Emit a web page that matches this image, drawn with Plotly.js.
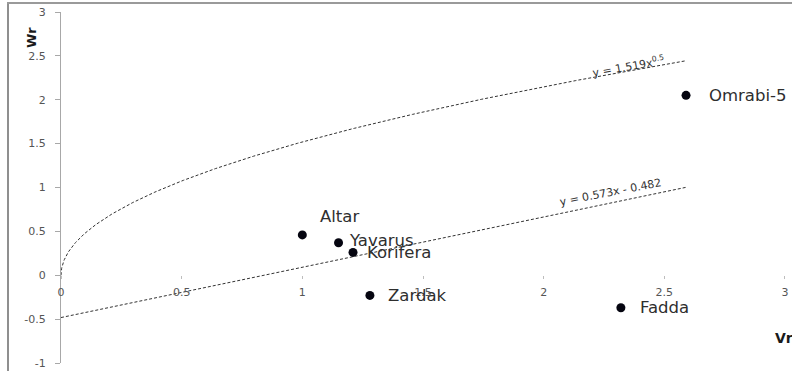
<!DOCTYPE html>
<html>
<head>
<meta charset="utf-8">
<script src="https://cdn.plot.ly/plotly-3.0.1.min.js"></script>
<style>
  html, body { margin: 0; padding: 0; background: #fff; }
  #chart { width: 792px; height: 371px; }
</style>
</head>
<body>
<div id="chart"></div>
<script>
// Cultivar stability indices: Vr (x) against Wr (y)
const cultivars = ["Altar", "Yavarus", "Korifera", "Zardak", "Fadda", "Omrabi-5"];
const vrValues  = [1.00, 1.15, 1.21, 1.28, 2.32, 2.59];
const wrValues  = [0.46, 0.37, 0.26, -0.23, -0.37, 2.05];

const xTicks = [0, 0.5, 1, 1.5, 2, 2.5, 3];
const yTicks = [-1, -0.5, 0, 0.5, 1, 1.5, 2, 2.5, 3];

// Fitted trend equations shown on the chart
const powerCoef = 1.519, powerExp = 0.5;   // y = a * x^b
const linSlope = 0.573, linIntercept = -0.482; // y = m*x + c

// Label placement offsets (pixels) for each cultivar name
const labelShiftX = [16, 8, 12, 16, 17, 21];
const labelShiftY = [18, 2, 0, 0, 0, 0];

// Plot geometry
const W = 792, H = 371;
const M = { l: 61, r: 0, t: 11.5, b: 7.5 };
const pxPerX = 241.33;
const xMax = (W - M.l - M.r) / pxPerX;

// Trend curves evaluated over the data range starting at zero
const xEnd = Math.max(...vrValues);
const powX = [], powY = [];
const steps = 400;
for (let i = 0; i <= steps; i++) {
  const t = i / steps;
  const x = xEnd * t * t;          // denser near the origin
  powX.push(x);
  powY.push(powerCoef * Math.pow(x, powerExp));
}
const linX = [0, xEnd];
const linY = linX.map(x => linSlope * x + linIntercept);

const font = "DejaVu Sans, Liberation Sans, sans-serif";

const traces = [
  {
    x: powX, y: powY, mode: "lines", type: "scatter",
    line: { color: "#333", width: 1, dash: "3px,2px" },
    hoverinfo: "skip", showlegend: false
  },
  {
    x: linX, y: linY, mode: "lines", type: "scatter",
    line: { color: "#333", width: 1, dash: "3px,2px" },
    hoverinfo: "skip", showlegend: false
  },
  {
    x: vrValues, y: wrValues, mode: "markers", type: "scatter",
    marker: { color: "#050510", size: 9, line: { width: 0 } },
    text: cultivars, showlegend: false
  }
];

const annotations = cultivars.map((name, i) => ({
  x: vrValues[i], y: wrValues[i], xref: "x", yref: "y",
  text: name, showarrow: false,
  xanchor: "left", yanchor: "middle",
  xshift: labelShiftX[i], yshift: labelShiftY[i],
  font: { family: font, size: 16.5, color: "#2e2e2e" }
}));

annotations.push({
  x: 2.35, y: 2.38, xref: "x", yref: "y",
  text: "y = " + powerCoef.toFixed(3) + "x<sup>" + powerExp + "</sup>",
  showarrow: false, textangle: -10,
  font: { family: font, size: 11, color: "#333" }
});
annotations.push({
  x: 2.275, y: 0.94, xref: "x", yref: "y",
  text: "y = " + linSlope.toFixed(3) + "x - " + Math.abs(linIntercept).toFixed(3),
  showarrow: false, textangle: -11,
  font: { family: font, size: 11, color: "#333" }
});

// Axis titles
const plotW = W - M.l - M.r, plotH = H - M.t - M.b;
const px2paperX = px => (px - M.l) / plotW;
const px2paperY = py => (H - M.b - py) / plotH;

annotations.push({
  x: px2paperX(32), y: px2paperY(37.5), xref: "paper", yref: "paper",
  xanchor: "center", yanchor: "middle",
  text: "<b>Wr</b>", showarrow: false, textangle: -90,
  font: { family: font, size: 13, color: "#1a1a1a" }
});
annotations.push({
  x: px2paperX(773), y: px2paperY(338), xref: "paper", yref: "paper",
  text: "<b>Vr</b>", showarrow: false, xanchor: "left", yanchor: "middle",
  font: { family: font, size: 14, color: "#1a1a1a" }
});

// Chart frame edges (left and top)
const shapes = [
  {
    type: "line", xref: "paper", yref: "paper",
    x0: px2paperX(8), x1: px2paperX(8), y0: px2paperY(2), y1: px2paperY(H + 2),
    line: { color: "#8f8f8f", width: 2 }
  },
  {
    type: "line", xref: "paper", yref: "paper",
    x0: px2paperX(7), x1: px2paperX(W + 2), y0: px2paperY(2.5), y1: px2paperY(2.5),
    line: { color: "#9a9a9a", width: 2 }
  }
];

const layout = {
  width: W, height: H,
  margin: M,
  paper_bgcolor: "#fff", plot_bgcolor: "#fff",
  showlegend: false,
  xaxis: {
    range: [0, xMax],
    tickvals: xTicks, ticktext: xTicks.map(String),
    anchor: "free", position: 0.25,
    showline: false, showgrid: false, zeroline: false,
    ticks: "outside", ticklen: 3, tickcolor: "#bdbdbd", tickwidth: 1,
    ticklabelstandoff: 4,
    tickfont: { family: font, size: 11, color: "#555" }
  },
  yaxis: {
    range: [-1, 3],
    tickvals: yTicks, ticktext: yTicks.map(String),
    showline: true, linecolor: "#a8a8a8", linewidth: 1,
    showgrid: false, zeroline: false,
    ticks: "outside", ticklen: 5, tickcolor: "#a8a8a8",
    ticklabelstandoff: 7,
    tickfont: { family: font, size: 11, color: "#555" }
  },
  annotations: annotations,
  shapes: shapes
};

Plotly.newPlot("chart", traces, layout, { staticPlot: true, displayModeBar: false });
</script>
</body>
</html>
